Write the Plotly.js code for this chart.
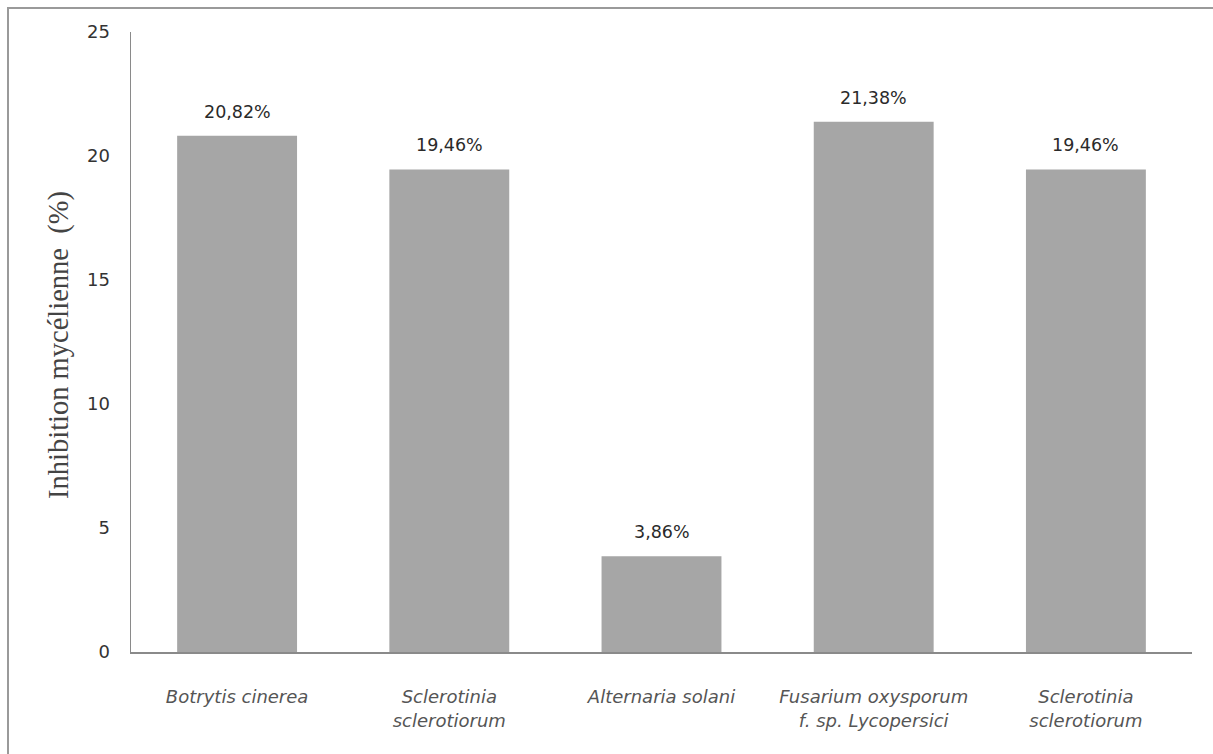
<!DOCTYPE html>
<html>
<head>
<meta charset="utf-8">
<script src="https://cdn.plot.ly/plotly-3.0.1.min.js"></script>
<style>
  html, body { margin: 0; padding: 0; background: #ffffff; overflow: hidden; }
  #frame { position: absolute; left: 7px; top: 7px; width: 1260px; height: 800px;
           border-left: 2px solid #9a9a9a; border-top: 2px solid #9a9a9a; box-sizing: border-box; }
  #chart { position: absolute; left: 0; top: 0; width: 1213px; height: 754px; }
</style>
</head>
<body>
<div id="frame"></div>
<div id="chart"></div>
<script>
const categories = [
  "Botrytis cinerea",
  "Sclerotinia sclerotiorum (1)",
  "Alternaria solani",
  "Fusarium oxysporum f. sp. Lycopersici",
  "Sclerotinia sclerotiorum (2)"
];
const tickLabels = [
  "<i>Botrytis cinerea</i>",
  "<i>Sclerotinia</i><br><i>sclerotiorum</i>",
  "<i>Alternaria solani</i>",
  "<i>Fusarium oxysporum</i><br><i>f. sp. Lycopersici</i>",
  "<i>Sclerotinia</i><br><i>sclerotiorum</i>"
];
const values = [20.82, 19.46, 3.86, 21.38, 19.46];
const valueLabels = ["20,82%", "19,46%", "3,86%", "21,38%", "19,46%"];
const yTicks = [0, 5, 10, 15, 20, 25];

const trace = {
  type: "bar",
  x: categories,
  y: values,
  marker: { color: "#a6a6a6" },
  hoverinfo: "skip"
};

const annotations = categories.map((c, i) => ({
  x: c, y: values[i], xref: "x", yref: "y",
  text: valueLabels[i], showarrow: false,
  yanchor: "middle", yshift: 24,
  font: { family: "DejaVu Sans", size: 17.5, color: "#2a2a2a" }
}));
annotations.push({
  xref: "paper", yref: "paper", x: -0.068, y: 0.495,
  xanchor: "center", yanchor: "middle", textangle: -90,
  text: "Inhibition mycélienne  (%)", showarrow: false,
  font: { family: "Liberation Serif", size: 28.5, color: "#444444" }
});

const layout = {
  width: 1213, height: 754,
  margin: { l: 131, r: 21, t: 32, b: 102 },
  paper_bgcolor: "rgba(0,0,0,0)",
  plot_bgcolor: "rgba(0,0,0,0)",
  showlegend: false,
  bargap: 0.435,
  xaxis: {
    type: "category",
    tickvals: categories,
    ticktext: tickLabels,
    showline: true, linecolor: "#8a8a8a", linewidth: 1.5,
    ticks: "", showgrid: false, zeroline: false,
    ticklabelstandoff: 28,
    tickfont: { family: "DejaVu Sans", size: 18, color: "#555555" }
  },
  yaxis: {
    range: [0, 25],
    tickvals: yTicks,
    ticktext: yTicks.map(String),
    showline: true, linecolor: "#8a8a8a", linewidth: 1.5,
    ticks: "", showgrid: false, zeroline: false,
    ticklabelstandoff: 16,
    tickfont: { family: "DejaVu Sans", size: 18, color: "#333333" }
  },
  annotations: annotations
};

Plotly.newPlot("chart", [trace], layout, { staticPlot: true, displayModeBar: false });
</script>
</body>
</html>
